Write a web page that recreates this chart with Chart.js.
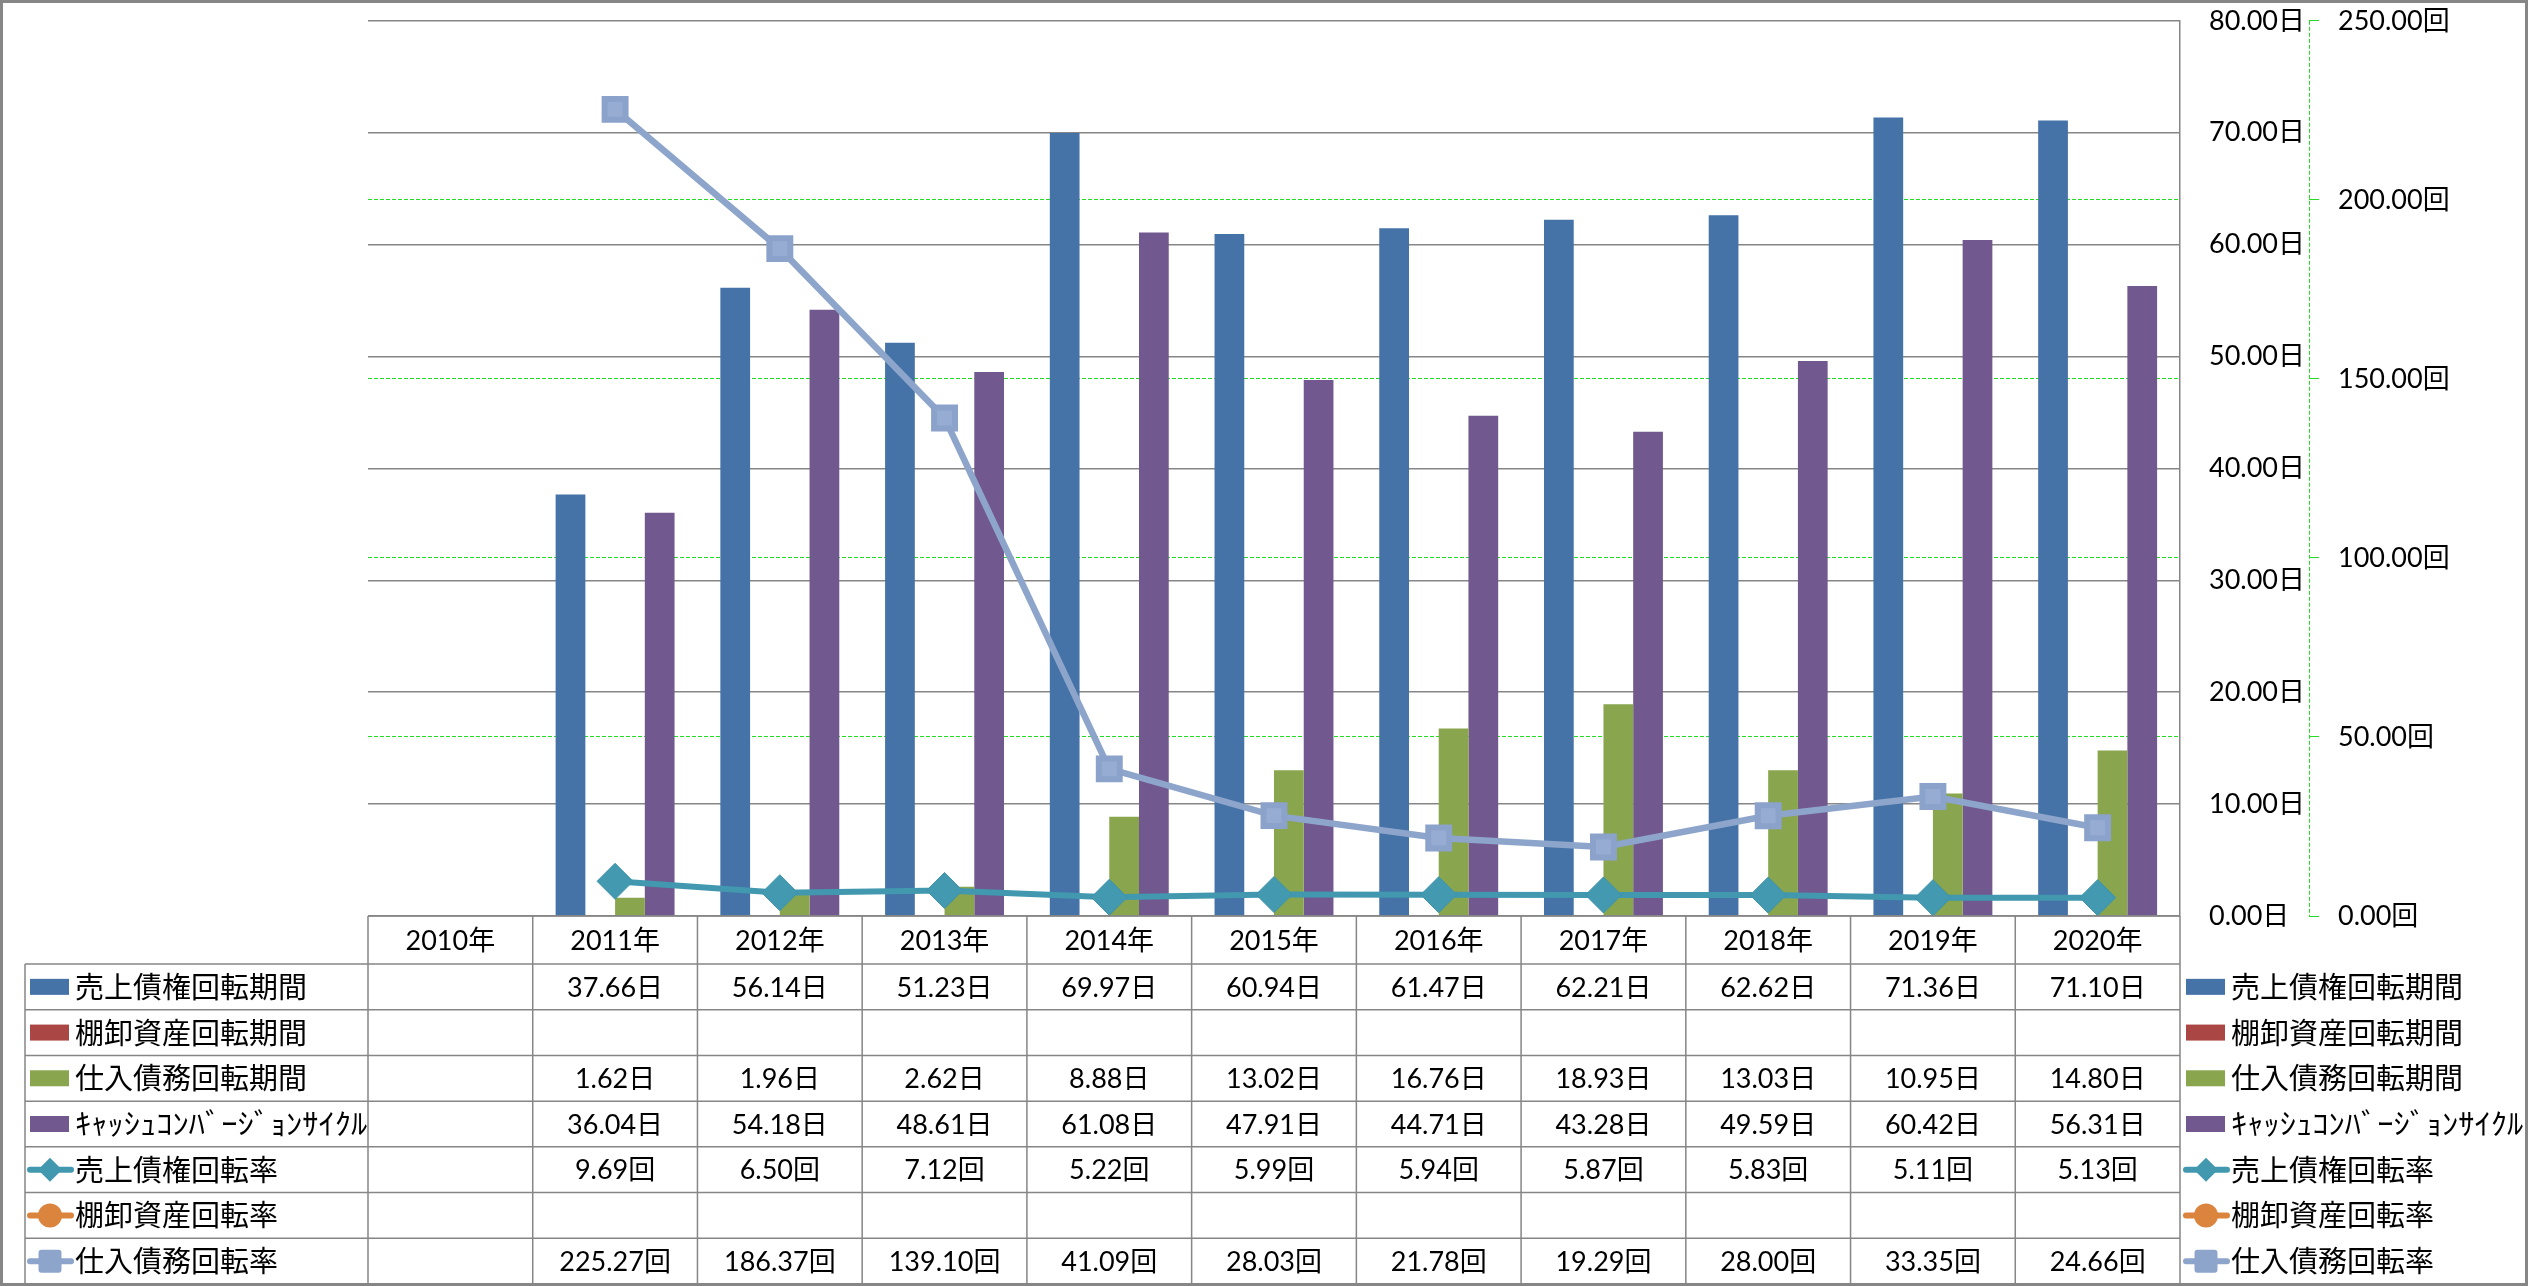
<!DOCTYPE html>
<html><head><meta charset="utf-8">
<script src="https://cdn.jsdelivr.net/npm/chart.js@4/dist/chart.umd.min.js"></script>
<style>html,body{margin:0;padding:0;background:#fff;overflow:hidden}canvas{display:block}</style>
</head><body>
<canvas id="c" width="2528" height="1286"></canvas>
<script>
// ---- data ----
const categories = ['2010年','2011年','2012年','2013年','2014年','2015年','2016年','2017年','2018年','2019年','2020年'];
const receivablePeriod = [null, 37.66, 56.14, 51.23, 69.97, 60.94, 61.47, 62.21, 62.62, 71.36, 71.10];
const inventoryPeriod  = [null, null, null, null, null, null, null, null, null, null, null];
const payablePeriod    = [null, 1.62, 1.96, 2.62, 8.88, 13.02, 16.76, 18.93, 13.03, 10.95, 14.80];
const cashConversionCycle = [null, 36.04, 54.18, 48.61, 61.08, 47.91, 44.71, 43.28, 49.59, 60.42, 56.31];
const receivableTurnover = [null, 9.69, 6.50, 7.12, 5.22, 5.99, 5.94, 5.87, 5.83, 5.11, 5.13];
const inventoryTurnover  = [null, null, null, null, null, null, null, null, null, null, null];
const payableTurnover    = [null, 225.27, 186.37, 139.10, 41.09, 28.03, 21.78, 19.29, 28.00, 33.35, 24.66];
const seriesNames = ['売上債権回転期間','棚卸資産回転期間','仕入債務回転期間','ｷｬｯｼｭｺﾝﾊﾞｰｼﾞｮﾝｻｲｸﾙ','売上債権回転率','棚卸資産回転率','仕入債務回転率'];
const seriesUnits = ['日','日','日','日','回','回','回'];
const dayAxis = {min: 0, max: 80, step: 10, unit: '日'};
const timesAxis = {min: 0, max: 250, step: 50, unit: '回'};

// ---- styles ----
const GRID = '#868686';
const GREEN = '#22DD22';
const BLUE = '#4572A7', RED = '#AA4643', OLIVE = '#89A54E', PURPLE = '#71588F';
const TEAL = '#4198AF', ORANGE = '#DB843D', LBLUE = '#8EA5CB';
const numFont = '27px Lato, "Noto Sans CJK JP"';
const labFont = '29px "Noto Sans CJK JP"';

const allSeries = [receivablePeriod, inventoryPeriod, payablePeriod, cashConversionCycle, receivableTurnover, inventoryTurnover, payableTurnover];
const keyStyles = [
  {kind:'bar', color: BLUE}, {kind:'bar', color: RED}, {kind:'bar', color: OLIVE}, {kind:'bar', color: PURPLE},
  {kind:'line', color: TEAL, marker:'diamond'}, {kind:'line', color: ORANGE, marker:'circle'}, {kind:'line', color: LBLUE, marker:'square'}
];

function drawKey(ctx, k, x0, cy) {
  ctx.save();
  if (k.kind === 'bar') {
    ctx.fillStyle = k.color;
    ctx.fillRect(x0 + 2, cy - 8, 39, 16);
  } else {
    ctx.strokeStyle = k.color; ctx.lineWidth = 6; ctx.lineCap = 'round';
    ctx.beginPath(); ctx.moveTo(x0 + 2, cy); ctx.lineTo(x0 + 43, cy); ctx.stroke();
    ctx.fillStyle = k.color;
    const mx = x0 + 22;
    ctx.beginPath();
    if (k.marker === 'diamond') {
      ctx.moveTo(mx, cy - 12); ctx.lineTo(mx + 12, cy); ctx.lineTo(mx, cy + 12); ctx.lineTo(mx - 12, cy); ctx.closePath();
    } else if (k.marker === 'circle') {
      ctx.arc(mx, cy, 12, 0, Math.PI * 2);
    } else {
      const h = 11.5, r = 3;
      ctx.moveTo(mx - h + r, cy - h); ctx.lineTo(mx + h - r, cy - h); ctx.quadraticCurveTo(mx + h, cy - h, mx + h, cy - h + r);
      ctx.lineTo(mx + h, cy + h - r); ctx.quadraticCurveTo(mx + h, cy + h, mx + h - r, cy + h);
      ctx.lineTo(mx - h + r, cy + h); ctx.quadraticCurveTo(mx - h, cy + h, mx - h, cy + h - r);
      ctx.lineTo(mx - h, cy - h + r); ctx.quadraticCurveTo(mx - h, cy - h, mx - h + r, cy - h);
    }
    ctx.fill();
  }
  ctx.restore();
}

function drawLabel(ctx, text, x, cy) {
  // half-width katakana label is rendered wider in the reference
  const isHalfWidth = /[\uFF61-\uFF9F]/.test(text);
  if (!isHalfWidth) { ctx.fillText(text, x, cy); return; }
  ctx.save();
  ctx.translate(x, cy);
  ctx.scale(1.12, 1);
  ctx.fillText(text, 0, 0);
  ctx.restore();
}

const tablePlugin = {
  id: 'dataTable',
  afterDraw(chart) {
    const ctx = chart.ctx;
    const xs = chart.scales.x;
    const y1 = chart.scales.y1;
    const n = categories.length;
    const cw = (xs.right - xs.left) / n;
    const top = chart.chartArea.bottom;
    const rowTop = top + 48;
    const bottom = 1284;
    const rowH = (bottom - rowTop) / seriesNames.length;
    ctx.save();
    // dashed secondary axis line
    ctx.strokeStyle = GREEN; ctx.lineWidth = 1; ctx.setLineDash([4, 2]);
    ctx.beginPath(); ctx.moveTo(Math.round(y1.left) + 0.5, chart.chartArea.top); ctx.lineTo(Math.round(y1.left) + 0.5, chart.chartArea.bottom); ctx.stroke();
    ctx.setLineDash([]);
    // table grid
    ctx.strokeStyle = GRID; ctx.lineWidth = 1.5;
    ctx.beginPath();
    ctx.moveTo(xs.left, top); ctx.lineTo(xs.right, top);
    for (let r = 0; r < seriesNames.length; r++) {
      const yy = rowTop + r * rowH;
      ctx.moveTo(25, yy); ctx.lineTo(xs.right, yy);
    }
    ctx.moveTo(25, rowTop); ctx.lineTo(25, bottom);
    for (let i = 0; i <= n; i++) {
      const xx = xs.left + i * cw;
      ctx.moveTo(xx, top); ctx.lineTo(xx, bottom);
    }
    ctx.stroke();
    // header
    ctx.fillStyle = '#000'; ctx.textBaseline = 'middle'; ctx.textAlign = 'center';
    ctx.font = numFont;
    categories.forEach((c, i) => ctx.fillText(c, xs.getPixelForValue(i), top + 25));
    // rows
    seriesNames.forEach((name, r) => {
      const cy = rowTop + (r + 0.5) * rowH;
      ctx.font = numFont; ctx.textAlign = 'center';
      allSeries[r].forEach((v, i) => {
        if (v !== null && v !== undefined) ctx.fillText(v.toFixed(2) + seriesUnits[r], xs.getPixelForValue(i), cy + 1);
      });
      ctx.font = labFont; ctx.textAlign = 'left';
      drawKey(ctx, keyStyles[r], 28, cy);
      drawLabel(ctx, name, 75, cy);
      drawKey(ctx, keyStyles[r], 2184, cy);
      drawLabel(ctx, name, 2231, cy);
    });
    // outer border
    ctx.strokeStyle = GRID; ctx.lineWidth = 3;
    ctx.strokeRect(1.5, 1.5, chart.width - 3, chart.height - 3);
    ctx.restore();
  }
};

const tickFont = {family: 'Lato, "Noto Sans CJK JP"', size: 27};

new Chart(document.getElementById('c'), {
  data: {
    labels: categories,
    datasets: [
      {type:'line', label: seriesNames[4], data: receivableTurnover, yAxisID:'y1', order: 0,
       borderColor: TEAL, borderWidth: 6, tension: 0, fill: false,
       pointStyle: 'rectRot', pointRadius: 18, pointBorderWidth: 1, pointBorderColor: '#3D93AB', pointBackgroundColor: '#4299B0'},
      {type:'line', label: seriesNames[5], data: inventoryTurnover, yAxisID:'y1', order: 0,
       borderColor: ORANGE, borderWidth: 6, pointStyle: 'circle', pointRadius: 14, pointBackgroundColor: ORANGE},
      {type:'line', label: seriesNames[6], data: payableTurnover, yAxisID:'y1', order: 0,
       borderColor: LBLUE, borderWidth: 6.5, tension: 0, fill: false,
       pointStyle: 'rect', pointRadius: 14.8, pointBorderWidth: 6, pointBorderColor: '#8BA2CA', pointBackgroundColor: '#97ACD2'},
      {type:'bar', label: seriesNames[0], data: receivablePeriod, yAxisID:'y', order: 1, backgroundColor: BLUE},
      {type:'bar', label: seriesNames[1], data: inventoryPeriod, yAxisID:'y', order: 1, backgroundColor: RED},
      {type:'bar', label: seriesNames[2], data: payablePeriod, yAxisID:'y', order: 1, backgroundColor: OLIVE},
      {type:'bar', label: seriesNames[3], data: cashConversionCycle, yAxisID:'y', order: 1, backgroundColor: PURPLE}
    ]
  },
  options: {
    responsive: false,
    animation: false,
    events: [],
    layout: {padding: {left: 368, right: 0, top: 20, bottom: 370}},
    datasets: {bar: {categoryPercentage: 0.722, barPercentage: 1.0, borderWidth: 0}},
    plugins: {legend: {display: false}, tooltip: {enabled: false}},
    scales: {
      x: {type: 'category', display: false, offset: true, grid: {display: false}},
      y: {position: 'right', weight: 1, min: dayAxis.min, max: dayAxis.max,
          ticks: {stepSize: dayAxis.step, padding: 29, font: tickFont, color: '#000',
                  callback: v => Number(v).toFixed(2) + dayAxis.unit},
          grid: {color: GRID, lineWidth: 1.5, drawTicks: false},
          border: {display: true, color: GRID, width: 1.5},
          afterFit: s => { s.width = 129; s.paddingTop = 0; s.paddingBottom = 0; }},
      y1: {position: 'right', weight: 2, min: timesAxis.min, max: timesAxis.max,
          ticks: {stepSize: timesAxis.step, padding: 19, font: tickFont, color: '#000',
                  callback: v => Number(v).toFixed(2) + timesAxis.unit},
          grid: {lineWidth: 1, drawTicks: true, tickLength: 10, tickColor: GREEN, tickWidth: 1,
                 color: c => (c.tick && (c.tick.value === timesAxis.max || c.tick.value === timesAxis.min)) ? 'rgba(0,0,0,0)' : GREEN},
          border: {display: false, dash: [4, 2]},
          afterFit: s => { s.width = 219; s.paddingTop = 0; s.paddingBottom = 0; }}
    }
  },
  plugins: [tablePlugin]
});
</script>
</body></html>
